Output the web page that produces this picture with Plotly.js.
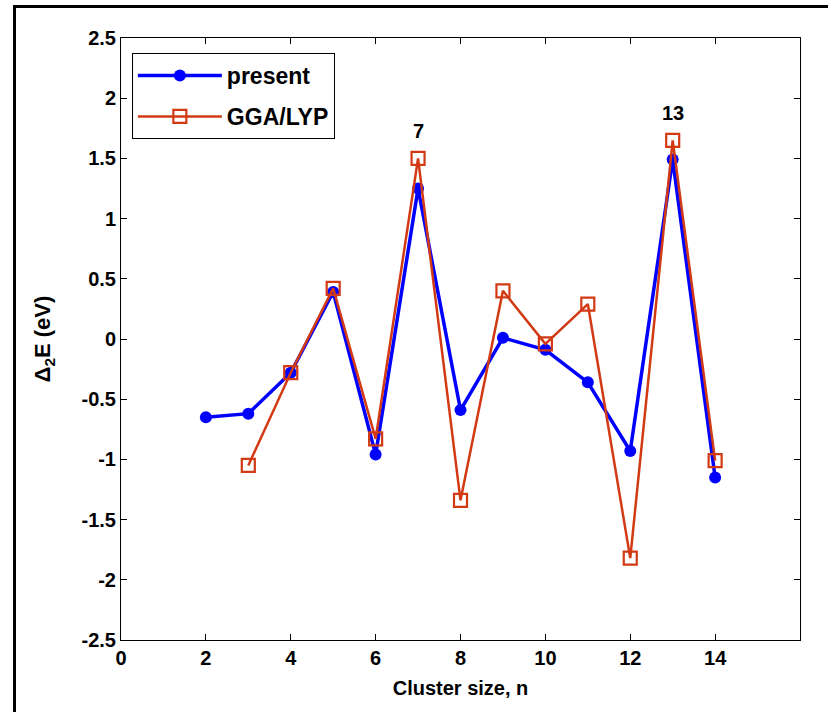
<!DOCTYPE html>
<html>
<head>
<meta charset="utf-8">
<script src="https://cdn.plot.ly/plotly-3.0.1.min.js"></script>
<style>
html,body{margin:0;padding:0;background:#fff;}
#wrap{position:relative;width:828px;height:712px;overflow:hidden;}
#frame{position:absolute;left:13px;top:5px;width:900px;height:800px;border-left:3px solid #000;border-top:3px solid #000;pointer-events:none;z-index:5;}
#chart{position:absolute;left:0;top:0;width:828px;height:712px;}
</style>
</head>
<body>
<div id="wrap">
<div id="chart"></div>
<div id="frame"></div>
</div>
<script>
// Data
const presentN = [2, 3, 4, 5, 6, 7, 8, 9, 10, 11, 12, 13, 14];
const presentE = [-0.65, -0.62, -0.28, 0.39, -0.96, 1.25, -0.59, 0.01, -0.09, -0.36, -0.93, 1.49, -1.15];
const ggaN = [3, 4, 5, 6, 7, 8, 9, 10, 11, 12, 13, 14];
const ggaE = [-1.05, -0.28, 0.42, -0.83, 1.5, -1.34, 0.4, -0.04, 0.29, -1.82, 1.65, -1.01];
const xTicks = [0, 2, 4, 6, 8, 10, 12, 14];
const yTicks = [-2.5, -2, -1.5, -1, -0.5, 0, 0.5, 1, 1.5, 2, 2.5];
const yTickText = ['-2.5', '-2', '-1.5', '-1', '-0.5', '0', '0.5', '1', '1.5', '2', '2.5'];
const labelN = [7, 13];
const labelE = [1.73, 1.88];

const FONT = 'Liberation Sans, Arial, Helvetica, sans-serif';
const blue = '#0000ff';
const red = '#d23a14';

const traces = [
  {
    x: presentN, y: presentE, name: 'present', type: 'scatter', mode: 'lines+markers',
    line: {color: blue, width: 3.5},
    marker: {symbol: 'circle', size: 12, color: blue},
    legendgroup: 'a'
  },
  {
    x: ggaN, y: ggaE, name: 'GGA/LYP', type: 'scatter', mode: 'lines+markers',
    line: {color: red, width: 2.5},
    marker: {symbol: 'square-open', size: 13, color: red, line: {width: 2.2, color: red}},
    legendgroup: 'b'
  }
];

const annotations = labelN.map((n, i) => ({
  x: n, y: labelE[i], xref: 'x', yref: 'y', text: String(n), showarrow: false,
  font: {family: FONT, size: 20, color: '#000', weight: 'bold'}
}));

const axisCommon = {
  showline: true, linecolor: '#000', linewidth: 1, mirror: 'ticks',
  ticks: 'inside', ticklen: 6, tickcolor: '#000', showgrid: false, zeroline: false,
  tickfont: {family: FONT, size: 20, color: '#000', weight: 'bold'}
};

const layout = {
  width: 828, height: 712,
  margin: {l: 121, r: 28, t: 38, b: 72},
  paper_bgcolor: '#fff', plot_bgcolor: '#fff',
  showlegend: true,
  legend: {
    x: 0.016, y: 0.975, xanchor: 'left', yanchor: 'top',
    bgcolor: '#fff', bordercolor: '#000', borderwidth: 1,
    font: {family: FONT, size: 23, color: '#000', weight: 'bold'},
    traceorder: 'grouped', tracegroupgap: 8, itemwidth: 84
  },
  xaxis: Object.assign({}, axisCommon, {
    range: [0, 16], tickvals: xTicks, ticktext: xTicks.map(String),
    title: {text: 'Cluster size, n', font: {family: FONT, size: 20, color: '#000', weight: 'bold'}, standoff: 12}
  }),
  yaxis: Object.assign({}, axisCommon, {
    range: [-2.5, 2.5], tickvals: yTicks, ticktext: yTickText,
    title: {text: 'Δ<sub>2</sub>E (eV)', font: {family: FONT, size: 22, color: '#000', weight: 'bold'}, standoff: 24}
  }),
  annotations: annotations
};

Plotly.newPlot('chart', traces, layout, {displayModeBar: false, staticPlot: true});
</script>
</body>
</html>
